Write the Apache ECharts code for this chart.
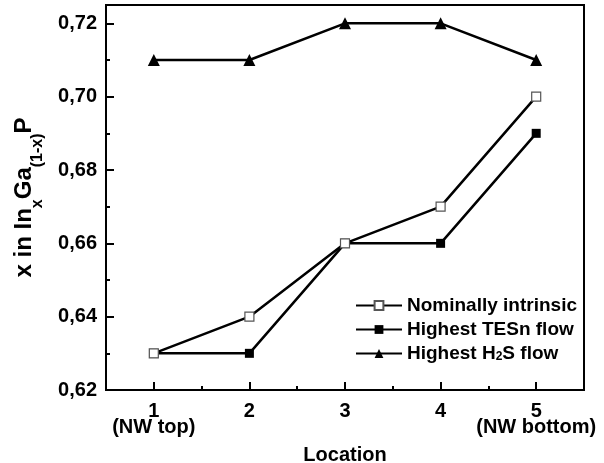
<!DOCTYPE html>
<html>
<head>
<meta charset="utf-8">
<script src="https://cdn.jsdelivr.net/npm/echarts@6/dist/echarts.min.js"></script>
<style>
	html, body {margin: 0; padding: 0; background: #fff;}
	#main {width: 604px; height: 463px;}
</style>
</head>
<body>
<div id="main"></div>
<script>
var locations = [1, 2, 3, 4, 5];
var locationLabels = ['1\n(NW top)', '2', '3', '4', '5\n(NW bottom)'];
var minorX = [1.5, 2.5, 3.5, 4.5];
var yTicks = [0.62, 0.64, 0.66, 0.68, 0.70, 0.72];
var yMinor = [0.63, 0.65, 0.67, 0.69, 0.71];

var intrinsic = [0.63, 0.64, 0.66, 0.67, 0.70];
var tesn = [0.63, 0.63, 0.66, 0.66, 0.69];
var h2s = [0.71, 0.71, 0.72, 0.72, 0.71];

function pairs(vals) {
	return locations.map(function (x, i) { return [x, vals[i]]; });
}

var font = 'Liberation Sans, Arial, sans-serif';
var myChart = echarts.init(document.getElementById('main'));

var option = {
	animation: false,
	textStyle: {fontFamily: font},
	grid: {
		left: 106, right: 20, top: 5, bottom: 73,
		outerBoundsMode: 'none',
		show: true, borderColor: '#000', borderWidth: 2
	},
	legend: {
		orient: 'vertical',
		left: 350,
		top: 291,
		itemWidth: 46,
		itemHeight: 11,
		itemGap: 5,
		textStyle: {
			fontFamily: font, fontSize: 19, fontWeight: 'bold', color: '#000',
			rich: {
				s: {fontFamily: font, fontSize: 12, fontWeight: 'bold', color: '#000', verticalAlign: 'bottom', lineHeight: 14}
			}
		},
		formatter: function (name) {
			if (name === 'Highest H2S flow') return 'Highest H{s|2}S flow';
			return name;
		},
		data: ['Nominally intrinsic', 'Highest TESn flow', 'Highest H2S flow']
	},
	xAxis: [
		{
			type: 'value',
			min: 0.5,
			max: 5.5,
			name: 'Location',
			nameLocation: 'middle',
			nameGap: 55,
			nameTextStyle: {fontFamily: font, fontSize: 20, fontWeight: 'bold', color: '#000'},
			axisLine: {lineStyle: {color: '#000', width: 2}},
			axisTick: {inside: true, length: 8, customValues: locations, lineStyle: {color: '#000', width: 2}},
			axisLabel: {
				customValues: locations,
				margin: 13,
				fontFamily: font, fontSize: 20, fontWeight: 'bold', color: '#000', lineHeight: 16,
				formatter: function (v) { return locationLabels[locations.indexOf(v)]; }
			},
			splitLine: {show: false}
		},
		{
			type: 'value',
			min: 0.5,
			max: 5.5,
			position: 'bottom',
			axisLine: {show: false},
			axisTick: {inside: true, length: 4, customValues: minorX, lineStyle: {color: '#000', width: 2}},
			axisLabel: {show: false},
			splitLine: {show: false}
		}
	],
	yAxis: [
		{
			type: 'value',
			min: 0.62,
			max: 0.725,
			interval: 0.02,
			name: 'x in In{s|x}Ga{s|(1-x)}P',
			nameLocation: 'middle',
			nameGap: 60,
			nameTextStyle: {
				fontFamily: font, fontSize: 24, fontWeight: 'bold', color: '#000', lineHeight: 44,
				rich: {
					s: {fontFamily: font, fontSize: 16, fontWeight: 'bold', color: '#000', verticalAlign: 'bottom', lineHeight: 16}
				}
			},
			axisLine: {lineStyle: {color: '#000', width: 2}},
			axisTick: {inside: true, length: 8, customValues: yTicks, lineStyle: {color: '#000', width: 2}},
			axisLabel: {
				customValues: yTicks,
				margin: 9,
				fontFamily: font, fontSize: 20, fontWeight: 'bold', color: '#000',
				formatter: function (v) { return v.toFixed(2).replace('.', ','); }
			},
			splitLine: {show: false}
		},
		{
			type: 'value',
			min: 0.62,
			max: 0.725,
			position: 'left',
			axisLine: {show: false},
			axisTick: {inside: true, length: 4, customValues: yMinor, lineStyle: {color: '#000', width: 2}},
			axisLabel: {show: false},
			splitLine: {show: false}
		}
	],
	series: [
		{
			name: 'Nominally intrinsic',
			type: 'line',
			data: pairs(intrinsic),
			symbol: 'rect',
			symbolSize: 9,
			lineStyle: {color: '#000', width: 2.5},
			itemStyle: {color: '#fff', borderColor: '#555', borderWidth: 1.2},
			z: 3
		},
		{
			name: 'Highest TESn flow',
			type: 'line',
			data: pairs(tesn),
			symbol: 'rect',
			symbolSize: 9,
			lineStyle: {color: '#000', width: 2.5},
			itemStyle: {color: '#000'},
			z: 2
		},
		{
			name: 'Highest H2S flow',
			type: 'line',
			data: pairs(h2s),
			symbol: 'triangle',
			symbolSize: 12,
			lineStyle: {color: '#000', width: 2.5},
			itemStyle: {color: '#000'},
			z: 2
		}
	]
};

myChart.setOption(option);
</script>
</body>
</html>
